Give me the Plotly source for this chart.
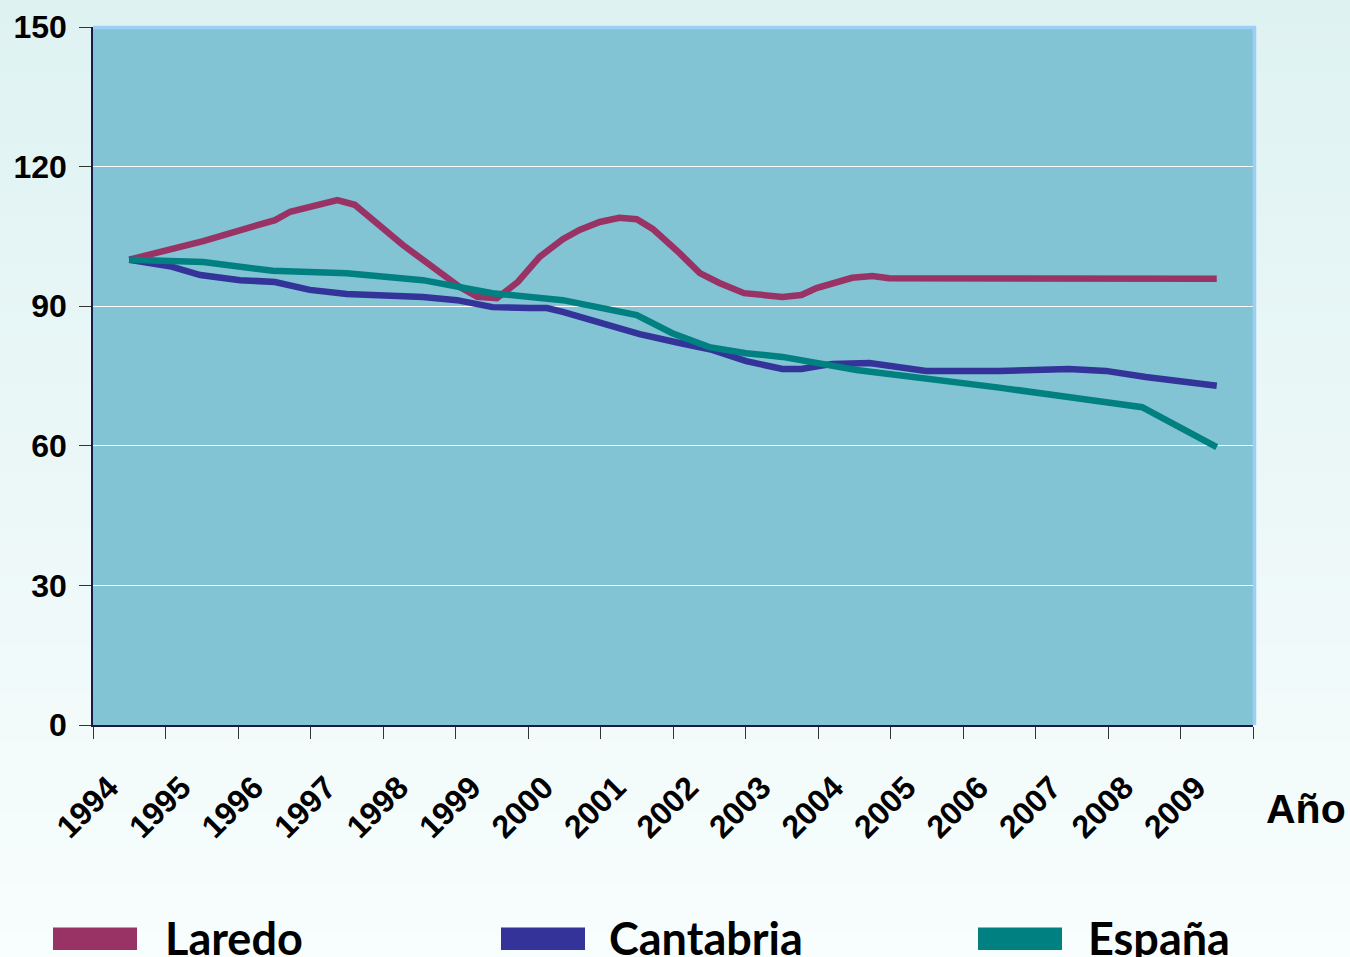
import plotly.graph_objects as go

# ---------------- data ----------------
years = list(range(1994, 2010))
year_labels = [str(y) for y in years]

laredo_x = [1994.00, 1995.02, 1996.01, 1996.22, 1996.87, 1997.11, 1997.77, 1998.24, 1998.56,
            1998.80, 1999.07, 1999.36, 1999.66, 1999.98, 2000.21, 2000.49, 2000.76, 2001.00,
            2001.22, 2001.59, 2001.87, 2002.14, 2002.48, 2003.01, 2003.27, 2003.48, 2003.97,
            2004.25, 2004.48, 2009.00]
laredo_y = [100.0, 104.0, 108.5, 110.3, 112.8, 111.8, 103.2, 97.8, 94.1,
            92.0, 91.7, 95.2, 100.6, 104.4, 106.4, 108.1, 109.0, 108.7,
            106.6, 101.4, 97.1, 95.0, 92.8, 92.0, 92.4, 93.9, 96.1,
            96.5, 96.0, 95.9]

cantabria_x = [1994.00, 1994.56, 1994.98, 1995.53, 1996.01, 1996.49, 1997.00, 1998.05, 1998.52,
               1999.01, 1999.52, 1999.76, 1999.98, 2000.45, 2000.76, 2001.04, 2001.59, 2002.04,
               2002.51, 2003.01, 2003.27, 2003.70, 2004.21, 2004.62, 2004.99, 2006.00, 2006.55,
               2006.96, 2007.47, 2008.02, 2009.00]
cantabria_y = [100.0, 98.6, 96.7, 95.6, 95.2, 93.5, 92.6, 92.0, 91.3,
               89.8, 89.6, 89.6, 88.8, 86.8, 85.3, 84.0, 82.1, 80.6,
               78.2, 76.5, 76.5, 77.6, 77.8, 76.9, 76.1, 76.1, 76.5,
               76.5, 76.1, 74.8, 72.9]

espana_x = [1994.00, 1995.02, 1995.98, 1997.00, 1998.05, 1998.52, 1999.01, 1999.98, 2000.49,
            2001.00, 2001.49, 2002.00, 2002.51, 2003.01, 2004.03, 2004.99, 2006.00, 2007.00,
            2007.97, 2009.00]
espana_y = [100.0, 99.5, 97.6, 97.1, 95.6, 94.1, 92.8, 91.3, 89.8,
            88.1, 84.2, 81.2, 79.9, 79.1, 76.3, 74.6, 72.5, 70.4,
            68.3, 59.7]

series_names = ["Laredo", "Cantabria", "España"]
series_colors = ["#993366", "#333399", "#008080"]
y_ticks = [0, 30, 60, 90, 120, 150]
x_axis_title = "Año"

# ---------------- layout geometry ----------------
W, H = 1350, 957
L, R, T, B = 93, 97, 27, 232
PW, PH = W - L - R, H - T - B


def px(x):
    return (x - L) / PW


def py(y):
    return (H - B - y) / PH


TICK_FONT = dict(family="Liberation Sans, Arial", size=32, color="#000000", weight="bold")

fig = go.Figure()
for name, xs, ys, col in zip(series_names,
                             [laredo_x, cantabria_x, espana_x],
                             [laredo_y, cantabria_y, espana_y],
                             series_colors):
    fig.add_trace(go.Scatter(x=xs, y=ys, mode="lines", name=name,
                             line=dict(color=col, width=6.5),
                             showlegend=False, hoverinfo="skip"))

# empty trace to anchor the label axis
fig.add_trace(go.Scatter(x=[], y=[], xaxis="x2", showlegend=False))

shapes = []
# background gradient (paper)
n = 40
c0 = (0xDF, 0xF2, 0xF2)
c1 = (0xF8, 0xFD, 0xFD)
for i in range(n):
    t = i / (n - 1)
    c = tuple(round(a + (b - a) * t) for a, b in zip(c0, c1))
    y_top = H * i / n
    y_bot = H * (i + 1) / n + 1
    shapes.append(dict(type="rect", xref="paper", yref="paper", layer="below",
                       x0=px(0), x1=px(W), y0=py(y_bot), y1=py(y_top),
                       line=dict(width=0), fillcolor="rgb(%d,%d,%d)" % c))
# plot area background
shapes.append(dict(type="rect", xref="paper", yref="paper", layer="below",
                   x0=0, x1=1, y0=0, y1=1, line=dict(width=0), fillcolor="#82C4D4"))
# light blue top/right border
shapes.append(dict(type="line", xref="paper", yref="paper", x0=0, x1=px(1256), y0=py(27.5), y1=py(27.5),
                   line=dict(color="#9CCEF8", width=3.5)))
shapes.append(dict(type="line", xref="paper", yref="paper", x0=px(1254.5), x1=px(1254.5), y0=0, y1=py(26),
                   line=dict(color="#9CCEF8", width=3.5)))

# legend (rectangles + labels)
legend_rects = [(53, 137), (501, 585), (978, 1062)]
legend_text_x = [163, 607, 1086]
annotations = []
for (x0, x1), tx, name, col in zip(legend_rects, legend_text_x, series_names, series_colors):
    shapes.append(dict(type="rect", xref="paper", yref="paper",
                       x0=px(x0), x1=px(x1), y0=py(950), y1=py(927.5),
                       line=dict(width=0), fillcolor=col))
    annotations.append(dict(text=name, xref="paper", yref="paper", x=px(tx), y=py(967),
                            xanchor="left", yanchor="bottom", showarrow=False,
                            font=dict(family="Lato, Open Sans, Liberation Sans", size=45,
                                      color="#000000", weight="bold")))

annotations.append(dict(text=x_axis_title, xref="paper", yref="paper", x=px(1264), y=py(809),
                        xanchor="left", yanchor="middle", showarrow=False,
                        font=dict(family="Liberation Sans, Arial", size=41, color="#000000",
                                  weight="bold")))

fig.update_layout(
    template="none",
    width=W, height=H,
    margin=dict(l=L, r=R, t=T, b=B, autoexpand=False),
    paper_bgcolor="#EAF7F7",
    plot_bgcolor="rgba(0,0,0,0)",
    showlegend=False,
    shapes=shapes,
    annotations=annotations,
    xaxis=dict(range=[1993.5, 2009.5], tickmode="array",
               tickvals=[y - 0.5 for y in years] + [2009.5],
               showticklabels=False, ticks="outside", ticklen=12, tickwidth=1.3,
               tickcolor="#333333", showline=True, linecolor="#1A1A4A", linewidth=1.5,
               showgrid=False, zeroline=False, fixedrange=True),
    xaxis2=dict(range=[1993.5, 2009.5], overlaying="x", anchor="y", side="bottom",
                tickmode="array", tickvals=[y - 0.28 for y in years], ticktext=year_labels,
                tickangle=-45, ticks="outside", ticklen=30, tickcolor="rgba(0,0,0,0)",
                tickfont=TICK_FONT, showline=False, showgrid=False, zeroline=False),
    yaxis=dict(range=[0, 150], tickmode="array", tickvals=y_ticks,
               ticks="outside", ticklen=12, tickwidth=1.3, tickcolor="#333333",
               tickfont=TICK_FONT, ticklabelstandoff=6,
               showline=True, linecolor="#1A1A4A", linewidth=1.5,
               showgrid=True, gridcolor="#FFFFFF", gridwidth=1.3, zeroline=False),
)

fig.write_html("out.html", config={"displayModeBar": False},
               post_script="document.body.style.margin='0px';")
